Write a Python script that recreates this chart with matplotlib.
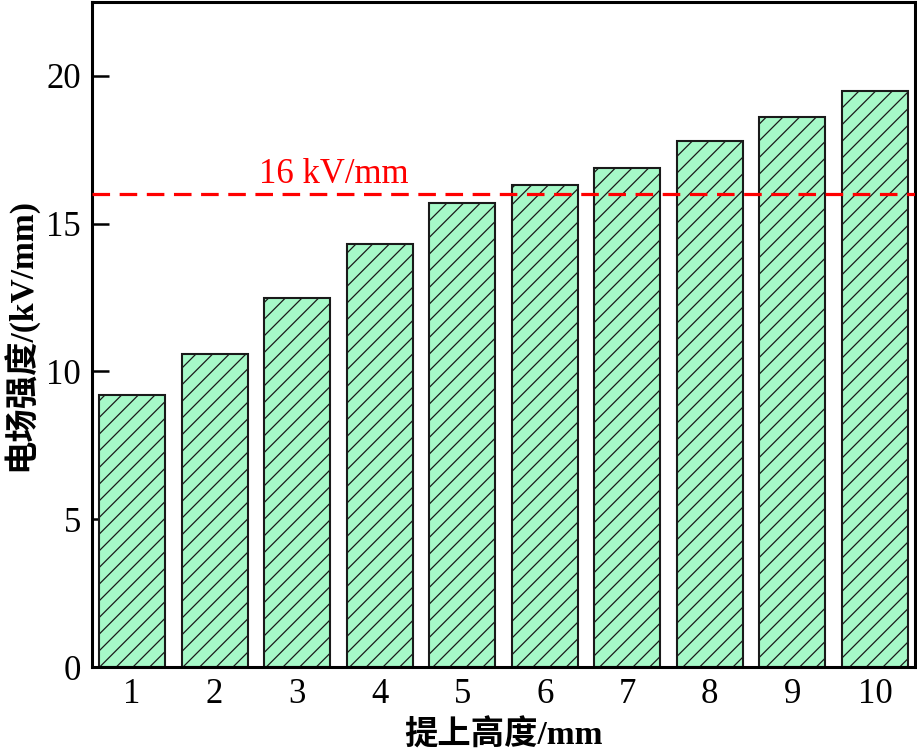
import numpy as np
import matplotlib
matplotlib.use('Agg')
import matplotlib.pyplot as plt

# data
heights = [1, 2, 3, 4, 5, 6, 7, 8, 9, 10]
field = [9.2, 10.6, 12.5, 14.3, 15.7, 16.3, 16.9, 17.8, 18.6, 19.5]
threshold = 16
threshold_label = '16 kV/mm'
ylabel = '电场强度/(kV/mm)'
xlabel = '提上高度/mm'

plt.rcParams['font.family'] = ['Liberation Serif', 'Noto Sans CJK SC']
plt.rcParams['hatch.linewidth'] = 0.9
plt.rcParams['hatch.color'] = '#1a1a1a'

fig = plt.figure(figsize=(9.17, 7.52), dpi=100)
ax = fig.add_axes([0.1003, 0.113, 0.8975, 0.8843])

ax.bar(heights, field, width=0.8, color='#a6f9c8', edgecolor='#1a1a1a',
       linewidth=1.5, hatch='//', zorder=2)

ax.axhline(threshold, color='#ff0000', linestyle=(0, (5.5, 3)), linewidth=2.3, zorder=3)
ax.text(3.44, threshold + 0.12, threshold_label, color='#ff0000', fontsize=25,
        ha='center', va='bottom')

ax.set_xlim(0.515, 10.485)
ax.set_ylim(0, 22.5)
ax.set_xticks(heights)
ax.set_yticks([0, 5, 10, 15, 20])

ax.tick_params(direction='in', length=12, width=1.8, labelsize=25, pad=8)
for s in ax.spines.values():
    s.set_linewidth(2.2)

ax.set_ylabel(ylabel, fontsize=24, fontweight='bold', labelpad=6)
ax.set_xlabel(xlabel, fontsize=24, fontweight='bold', labelpad=6)

fig.savefig('out.png', dpi=100)
